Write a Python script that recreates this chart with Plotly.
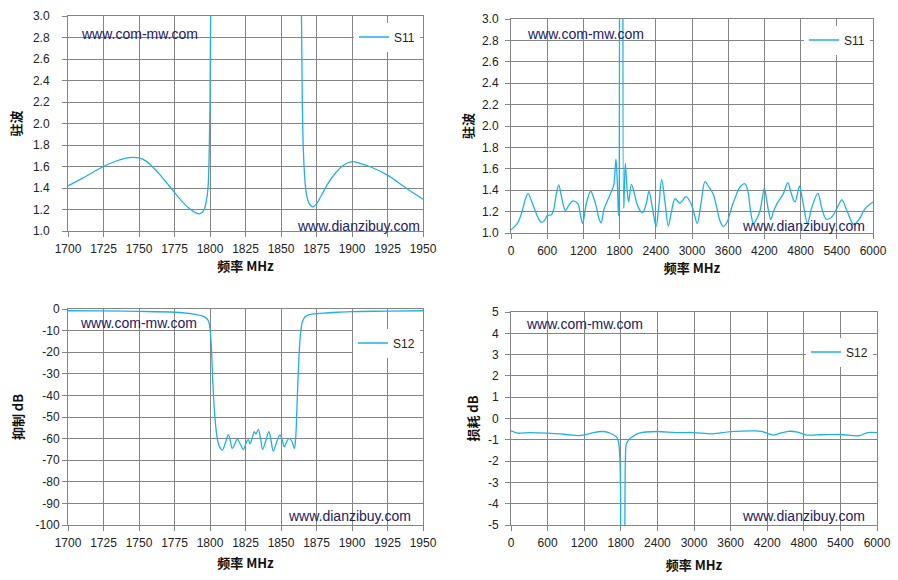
import plotly.graph_objects as go

# --- S11, narrow band (VSWR) ---
freq_s11_nb = [1700, 1710, 1720, 1725, 1730, 1740, 1746, 1750, 1755, 1760, 1765, 1770,
               1775, 1780, 1785, 1790, 1792.7, 1795.5, 1797.4, 1798.6, 1799.3, 1800, 1800.6,
               None,
               1864.2, 1865, 1865.7, 1866.7, 1867.8, 1869.7, 1872.5, 1874.9, 1878.4, 1883,
               1887.8, 1893.7, 1900, 1905.4, 1912.4, 1925, 1937, 1950]
vswr_s11_nb = [1.42, 1.49, 1.565, 1.60, 1.63, 1.675, 1.685, 1.68, 1.65, 1.59, 1.52, 1.44,
               1.36, 1.28, 1.215, 1.17, 1.16, 1.19, 1.28, 1.40, 1.65, 2.2, 3.3,
               None,
               3.3, 2.2, 1.77, 1.50, 1.35, 1.26, 1.225, 1.25, 1.33, 1.44,
               1.53, 1.61, 1.645, 1.63, 1.60, 1.52, 1.41, 1.295]

# --- S11, wide band (VSWR) ---
freq_s11_wb = [0, 60, 116, 172, 230, 282, 340, 393, 450, 504, 560, 603, 670, 708, 750, 791,
               840, 902, 960, 1029, 1112, 1150, 1188, 1250, 1321, 1370, 1417, 1460, 1495,
               1540, 1613, 1666, 1704, 1740, 1765, 1782, 1800,
               None,
               1856, 1868, 1895, 1925, 1950, 1995, 2040, 2083, 2140, 2182, 2240, 2287, 2340,
               2404, 2450, 2497, 2550, 2607, 2660, 2718, 2801, 2900, 2995, 3040, 3088, 3150,
               3215, 3280, 3354, 3409, 3460, 3520, 3580, 3658, 3730, 3796, 3879, 3930, 3962,
               4018, 4070, 4128, 4200, 4240, 4267, 4306, 4350, 4405, 4516, 4588, 4640, 4682,
               4710, 4781, 4815, 4848, 4914, 4986, 5086, 5152, 5224, 5318, 5401, 5484, 5567,
               5678, 5761, 5872, 6000]
vswr_s11_wb = [1.03, 1.06, 1.10, 1.18, 1.30, 1.37, 1.30, 1.22, 1.14, 1.10, 1.12, 1.165, 1.17,
               1.22, 1.36, 1.45, 1.33, 1.21, 1.26, 1.30, 1.27, 1.17, 1.09, 1.28, 1.39, 1.33,
               1.24, 1.13, 1.095, 1.22, 1.32, 1.39, 1.45, 1.69, 1.43, 1.16, 3.6,
               None,
               3.6, 1.23, 1.65, 1.40, 1.29, 1.455, 1.38, 1.28, 1.21, 1.19, 1.27, 1.39, 1.25,
               1.06, 1.25, 1.50, 1.30, 1.065, 1.20, 1.32, 1.28, 1.34, 1.26, 1.17, 1.09, 1.28,
               1.48, 1.43, 1.36, 1.24, 1.12, 1.06, 1.10, 1.24, 1.35, 1.43, 1.46, 1.38, 1.24,
               1.09, 1.13, 1.21, 1.42, 1.30, 1.21, 1.125, 1.20, 1.27, 1.37, 1.47, 1.38, 1.31,
               1.29, 1.44, 1.36, 1.26, 1.09, 1.24, 1.37, 1.23, 1.13, 1.15, 1.23, 1.31, 1.21,
               1.08, 1.12, 1.23, 1.29]

# --- S12, narrow band (rejection dB) ---
freq_s12_nb = [1700, 1725, 1750, 1775, 1785, 1790, 1794, 1797, 1798.5, 1799.5, 1800, 1801,
               1802, 1803, 1804, 1805, 1806.5, 1808.7, 1810.8, 1812.9, 1814.3, 1815.7, 1817.5,
               1819.2, 1821.3, 1823.5, 1825.8, 1827, 1828.2, 1829.8, 1831.2, 1832.4, 1834,
               1835.6, 1837.1, 1839.3, 1841.5, 1843, 1844.6, 1847, 1849.3, 1850.8, 1852.3,
               1854, 1855.6, 1857.5, 1859.4, 1860.3, 1861, 1862, 1863, 1864, 1865, 1867,
               1870, 1875, 1880, 1890, 1900, 1925, 1950]
rej_s12_nb = [-0.8, -0.9, -1.1, -1.5, -2.0, -2.5, -3.1, -4.0, -5.0, -7.0, -9.0, -18,
              -34, -46, -54, -59.5, -63.5, -65.3, -62, -58.3, -61, -64.5, -62.5,
              -60.2, -62.5, -65, -61.4, -60.5, -62.4, -59.5, -56.8, -57.9, -55.7,
              -60, -65, -61, -56.8, -61, -65.8, -61.5, -58.3, -60.5, -63.8,
              -61.5, -59.9, -61, -64.5, -60, -50, -32, -18, -10, -6, -3.6,
              -2.6, -2.2, -1.9, -1.5, -1.2, -1.0, -0.8]

# --- S12, wide band (loss dB) ---
freq_s12_wb = [0, 110, 300, 600, 900, 1100, 1200, 1350, 1500, 1600, 1700, 1730, 1762, 1784,
               1795, 1800,
               None,
               1866, 1875, 1890, 1930, 1960, 2100, 2400, 2700, 3000, 3300, 3600, 4000, 4100,
               4300, 4400, 4550, 4700, 4850, 5000, 5400, 5700, 5850, 6000]
loss_s12_wb = [-0.58, -0.69, -0.66, -0.69, -0.75, -0.80, -0.77, -0.66, -0.61, -0.66, -0.80,
               -0.86, -1.08, -1.78, -3.3, -6,
               None,
               -6, -2.0, -1.2, -1.0, -0.92, -0.69, -0.61, -0.66, -0.66, -0.72, -0.62, -0.58,
               -0.60, -0.78, -0.70, -0.60, -0.64, -0.78, -0.77, -0.75, -0.81, -0.66, -0.66]

# tick labels (plain hyphen minus, as in the original)
rej_ticks = [0, -10, -20, -30, -40, -50, -60, -70, -80, -90, -100]
rej_ticklabels = ["0", "-10", "-20", "-30", "-40", "-50", "-60", "-70", "-80", "-90", "-100"]
loss_ticks = [5, 4, 3, 2, 1, 0, -1, -2, -3, -4, -5]
loss_ticklabels = ["5", "4", "3", "2", "1", "0", "-1", "-2", "-3", "-4", "-5"]

W, H = 898, 580
LINE = "#1EB1E8"
GRID = "#858585"
TICKFONT = dict(family="Liberation Sans, Arial", size=12, color="#222222")
TITLEFONT = dict(family="Noto Sans CJK SC, Liberation Sans", size=13, color="#111111")
MARK = "#1c2063"


def px(x0, x1):
    return [x0 / W, x1 / W]


def py(top, bottom):
    return [1 - bottom / H, 1 - top / H]


fig = go.Figure()

panels = [
    ("x", "y", freq_s11_nb, vswr_s11_nb, "S11", "legend", 0.9),
    ("x2", "y2", freq_s11_wb, vswr_s11_wb, "S11", "legend2", 0.9),
    ("x3", "y3", freq_s12_nb, rej_s12_nb, "S12", "legend3", 1.0),
    ("x4", "y4", freq_s12_wb, loss_s12_wb, "S12", "legend4", 0.8),
]
for xa, ya, xs, ys, name, leg, smooth in panels:
    fig.add_trace(go.Scatter(
        x=xs, y=ys, xaxis=xa, yaxis=ya, name=name, legend=leg,
        mode="lines", connectgaps=False,
        line=dict(color=LINE, width=1.3, shape="spline", smoothing=smooth),
    ))


def xaxis(dom, rng, dtick, anchor, standoff_title):
    return dict(domain=dom, range=rng, dtick=dtick, tick0=0, anchor=anchor,
                automargin=False,
                showgrid=True, gridcolor=GRID, gridwidth=1, zeroline=False,
                showline=True, linecolor=GRID, linewidth=1, mirror=True,
                ticks="outside", ticklen=5, tickcolor=GRID, tickfont=TICKFONT,
                ticklabelstandoff=2,
                title=dict(text="<b>频率 MHz</b>", font=TITLEFONT, standoff=standoff_title))


def yaxis(dom, rng, anchor, title, standoff_lab, standoff_title, **ticks):
    return dict(domain=dom, range=rng, anchor=anchor, automargin=False,
                showgrid=True, gridcolor=GRID, gridwidth=1, zeroline=False,
                showline=True, linecolor=GRID, linewidth=1, mirror=True,
                ticks="outside", ticklen=5, tickcolor=GRID, tickfont=TICKFONT,
                ticklabelstandoff=standoff_lab,
                title=dict(text=f"<b>{title}</b>", font=TITLEFONT, standoff=standoff_title),
                **ticks)


def legend_at(x_left, y_center):
    return dict(x=x_left / W, y=1 - y_center / H, xanchor="left", yanchor="middle",
                bgcolor="white", borderwidth=0,
                font=dict(family="Liberation Sans, Arial", size=12, color="#222222"))


annotations = []
for (x, y, t) in [
    (79, 34, "www.com-mw.com"), (295, 226, "www.dianzibuy.com"),
    (525, 34, "www.com-mw.com"), (740, 226, "www.dianzibuy.com"),
    (78, 323, "www.com-mw.com"), (286, 516, "www.dianzibuy.com"),
    (524, 324, "www.com-mw.com"), (740, 516, "www.dianzibuy.com"),
]:
    annotations.append(dict(
        text=t, xref="paper", yref="paper", x=x / W, y=1 - y / H,
        xanchor="left", yanchor="middle", showarrow=False,
        font=dict(family="Liberation Sans, Arial", size=14, color=MARK),
    ))

fig.update_layout(
    width=W, height=H,
    margin=dict(l=0, r=0, t=0, b=0),
    paper_bgcolor="white", plot_bgcolor="white",
    showlegend=True,
    xaxis=xaxis(px(68, 423), [1700, 1950], 25, "y", 6),
    yaxis=yaxis(py(16, 231), [1.0, 3.0], "x", "驻波", 10, 8,
                dtick=0.2, tick0=0, tickformat=".1f"),
    xaxis2=xaxis(px(511, 873), [0, 6000], 600, "y2", 6),
    yaxis2=yaxis(py(19, 233), [1.0, 3.0], "x2", "驻波", 4, 5,
                 dtick=0.2, tick0=0, tickformat=".1f"),
    xaxis3=xaxis(px(68, 423), [1700, 1950], 25, "y3", 9),
    yaxis3=yaxis(py(309, 525), [-100, 0], "x3", "抑制 dB", 0, 9,
                 tickmode="array", tickvals=rej_ticks, ticktext=rej_ticklabels),
    xaxis4=xaxis(px(511, 877), [0, 6000], 600, "y4", 11),
    yaxis4=yaxis(py(312, 525), [-5, 5], "x4", "损耗 dB", 4, 6,
                 tickmode="array", tickvals=loss_ticks, ticktext=loss_ticklabels),
    legend=legend_at(354, 37),
    legend2=legend_at(804, 40),
    legend3=legend_at(353, 343),
    legend4=legend_at(806, 352),
    annotations=annotations,
)

fig.write_html("out.html", config={"displayModeBar": False},
               post_script="document.body.style.margin='0px';")
